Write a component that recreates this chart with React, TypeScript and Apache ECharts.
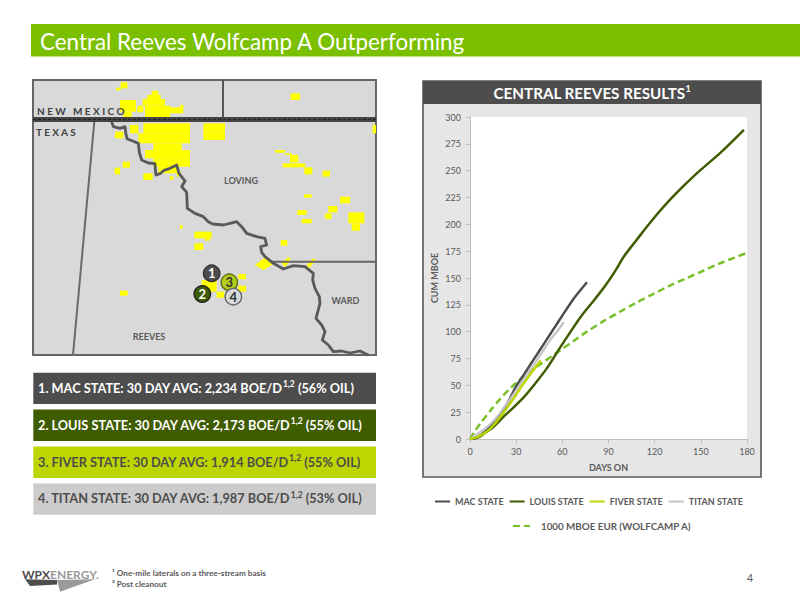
import React, { useEffect, useRef } from "react";
import * as echarts from "echarts";

const FONT = "Lato";
const seriesNames = ["MAC STATE", "LOUIS STATE", "FIVER STATE", "TITAN STATE", "1000 MBOE EUR (WOLFCAMP A)"];
const xTickInterval = 30;
const yTickInterval = 25;

const macState = [[0,0],[5,2],[10,7],[15,14],[20,24],[25,35],[30,49],[35,60],[40,71],[45,82],[50,93],[55,104],[60,115],[67,130],[72,139],[76,146]];
const louisState = [[2,0],[6,2],[10,6],[15,11],[22,21],[28,29],[35,39],[42,51],[50,66],[58,84],[64,97],[72,114],[81,130],[88,143],[95,158],[100,170],[108,185],[119,205],[132,226],[147,247],[163,267],[178,288]];
const fiverState = [[0,0],[5,2],[11,7],[16,14],[22,25],[28,37],[34,50],[40,62],[46,73]];
const titanState = [[0,0],[4,4],[10,10],[16,18],[22,29],[28,41],[33,52],[40,66],[46,79],[52,92],[57,101],[61,109]];
const eurWolfcampA = [[0,0],[3,7],[7,15],[13,26],[20,38],[26,47],[33,56],[40,64],[46,70],[53,77],[59,83],[68,92],[76,100],[87,110],[98,119],[108,127],[119,135],[130,143],[141,150],[152,157],[163,164],[172,169],[181,174]];

const titleText = "Central Reeves Wolfcamp A Outperforming";
const panelTitle = "CENTRAL REEVES RESULTS";
const statBars = [
  ["1. MAC STATE: 30 DAY AVG: 2,234 BOE/D", "(56% OIL)", "#4d4d4d", "#ffffff"],
  ["2. LOUIS STATE: 30 DAY AVG: 2,173 BOE/D", "(55% OIL)", "#3f5c00", "#ffffff"],
  ["3. FIVER STATE: 30 DAY AVG: 1,914 BOE/D", "(55% OIL)", "#bed600", "#4d4d4d"],
  ["4. TITAN STATE: 30 DAY AVG: 1,987 BOE/D", "(53% OIL)", "#cccccc", "#4d4d4d"],
];

// Map artwork, in 3x crop units of the map panel
const yellowBlocks = [
  [272,22,292,40],[258,38,272,46],[270,75,318,110],[280,110,305,128],[365,47,385,60],[352,60,392,72],[338,72,405,92],[322,92,340,112],[345,92,420,128],[405,97,460,115],[450,90,460,100],
  [340,145,480,175],[325,175,480,205],[370,205,455,225],[345,225,480,250],[370,250,480,275],[385,275,445,295],
  [300,150,325,175],[255,170,280,190],[520,145,585,170],[520,170,585,195],[278,260,300,278],[254,278,270,298],[340,295,368,315],[420,303,430,315],[440,290,452,305],
  [782,55,810,75],[735,225,765,233],[765,235,785,240],[780,240,805,262],[758,265,825,277],[823,277,847,298],[878,287,900,305],[822,358,845,368],[930,365,960,385],[802,405,830,420],[895,393,922,412],[885,415,905,432],[815,432,845,445],[955,412,1003,445],[965,445,990,467],[1028,150,1038,175],
  [493,470,545,490],[525,490,540,497],[493,505,520,525],[450,450,458,462],[752,495,772,512],[270,647,293,662],
  [625,597,648,613],[515,615,560,650],[560,650,583,668],[625,632,648,650],
];
const yellowShapes = [
  [[675,570],[705,547],[730,568],[700,585]],
  [[755,565],[775,545],[782,555],[765,577]],
  [[830,570],[850,550],[858,555],[838,580]],
];
const riverPath = [[245,140],[250,155],[270,160],[285,155],[288,178],[292,192],[308,198],[325,205],[328,232],[335,255],[355,264],[375,266],[376,285],[378,300],[392,295],[402,286],[420,280],[440,270],[447,295],[465,318],[455,335],[470,352],[472,400],[495,415],[520,425],[535,440],[548,447],[580,450],[600,445],[620,440],[635,455],[650,475],[680,485],[705,490],[710,510],[692,515],[695,532],[705,545],[730,565],[760,582],[790,572],[825,575],[850,595],[848,615],[855,640],[868,665],[870,685],[858,730],[875,750],[885,770],[877,795],[895,810],[910,830],[935,828],[960,834],[990,828],[1015,840]];
const mapLabels = [["LOVING", 633, 317], ["WARD", 946, 675], ["REEVES", 357, 785]];
const wellMarkers = [
  ["1", 545, 595, "#4d4d4d", "#333333", "#ffffff"],
  ["2", 517, 657, "#3f5c00", "#222222", "#ffffff"],
  ["3", 598, 622, "#b5cc18", "#5b6b10", "#333333"],
  ["4", 610, 665, "#d9d9d9", "#666666", "#333333"],
];

const mx = (v: number) => 30 + v / 3;
const my = (v: number) => 75 + v / 3;

function buildGraphics() {
  const g: any[] = [];
  const rect = (x: number, y: number, w: number, h: number, fill: string, extra: any = {}, z = 1) =>
    g.push({ type: "rect", z, silent: true, shape: { x, y, width: w, height: h }, style: { fill, ...extra } });
  const text = (x: number, y: number, t: string, size: number, fill: string, weight: any = "normal", align = "left", extra: any = {}, z = 5) =>
    g.push({ type: "text", z, silent: true, x, y, style: { text: t, fontFamily: FONT, fontSize: size, fontWeight: weight, fill, align, verticalAlign: "middle", ...extra } });

  // header
  rect(31, 24, 769, 32.5, "#7ac000");
  text(40, 41, titleText, 22.4, "#ffffff");

  // map
  rect(33, 80, 343, 275, "#d9d9d9", { stroke: "#666666", lineWidth: 2 });
  yellowBlocks.forEach(([a, b, c, d]) => rect(mx(a), my(b), (c - a) / 3, (d - b) / 3, "#ffff00", {}, 2));
  yellowShapes.forEach((pts) =>
    g.push({ type: "polygon", z: 2, silent: true, shape: { points: pts.map(([a, b]) => [mx(a), my(b)]) }, style: { fill: "#ffff00" } })
  );
  const line = (x1: number, y1: number, x2: number, y2: number, stroke: string, lineWidth: number, z = 3, dash?: number[]) =>
    g.push({ type: "line", z, silent: true, shape: { x1, y1, x2, y2 }, style: { stroke, lineWidth, lineDash: dash } });
  line(223, 80, 223, 118, "#555555", 2);
  line(94.3, 122, 73, 355, "#6a6a6a", 2);
  line(270, 261.7, 376, 261.7, "#666666", 2);
  line(33, 119.5, 376, 119.5, "#444444", 5);
  line(33, 119.5, 376, 119.5, "#222222", 1, 3, [3, 2]);
  g.push({ type: "polyline", z: 3, silent: true, shape: { points: riverPath.map(([a, b]) => [mx(a), my(b)]) }, style: { stroke: "#595959", lineWidth: 2.8, fill: "none", lineJoin: "round" } });
  text(37, 111, "N E W   M E X I C O", 10, "#404040", "bold");
  text(36, 132, "T E X A S", 10, "#404040", "bold");
  mapLabels.forEach(([t, a, b]) => text(mx(a as number), my(b as number), t as string, 9, "#595959", "bold", "center"));
  wellMarkers.forEach(([t, a, b, fill, stroke, col]) => {
    g.push({ type: "circle", z: 4, silent: true, shape: { cx: mx(a as number), cy: my(b as number), r: 8.2 }, style: { fill, stroke, lineWidth: 1.4 } });
    text(mx(a as number), my(b as number), t as string, 13, col as string, "bold", "center");
  });

  // stat bars
  statBars.forEach(([a, b, fill, col], i) => {
    const y = 372.7 + i * 36.9;
    rect(33.3, y, 342.7, 31.4, fill, {});
    g.push({
      type: "text", z: 5, silent: true, x: 38, y: y + 15,
      style: {
        text: `{m|${a}}{s|1,2}{m| ${b}}`, verticalAlign: "middle", align: "left", fontFamily: FONT,
        rich: {
          m: { fontFamily: FONT, fontSize: 12.75, fontWeight: "bold", fill: col, lineHeight: 16 },
          s: { fontFamily: FONT, fontSize: 8.5, fontWeight: "bold", fill: col, lineHeight: 16, verticalAlign: "top" },
        },
      },
    });
  });

  // chart panel
  rect(423, 81, 338, 396, "#e6e6e6", { stroke: "#595959", lineWidth: 1.6 }, -5);
  rect(423, 81, 338, 23, "#4d4d4d", {}, -4);
  g.push({
    type: "text", z: 5, silent: true, x: 592, y: 93,
    style: {
      text: `{m|${panelTitle}}{s|1}`, align: "center", verticalAlign: "middle", fontFamily: FONT,
      rich: {
        m: { fontFamily: FONT, fontSize: 15.2, fontWeight: "bold", fill: "#ffffff", lineHeight: 18 },
        s: { fontFamily: FONT, fontSize: 9, fontWeight: "bold", fill: "#ffffff", lineHeight: 18, verticalAlign: "top" },
      },
    },
  });

  // logo
  text(22, 574, "WPX", 12, "#4d4d4d", "bold");
  text(50, 574, "ENERGY.", 12, "#9a9a9a", "bold");
  g.push({ type: "polygon", z: 2, silent: true, shape: { points: [[25, 579.3], [57, 580], [57, 584.5], [30, 586]] }, style: { fill: "#4d4d4d" } });
  g.push({ type: "polygon", z: 2, silent: true, shape: { points: [[57, 580], [95, 579.3], [60, 591.7], [58.3, 585]] }, style: { fill: "#9a9a9a" } });

  // footnotes
  text(112, 573, "¹ One-mile laterals on a three-stream basis", 8.2, "#595959", "bold");
  text(112, 584, "² Post cleanout", 8.2, "#595959", "bold");
  text(750, 577, "4", 11, "#595959", "normal", "center");
  return g;
}

export default function App() {
  const ref = useRef<HTMLDivElement>(null);
  useEffect(() => {
    document.body.style.margin = "0";
    const chart = echarts.init(ref.current!, null, { renderer: "svg" });
    const lineSeries = (name: string, data: number[][], color: string, width: number, dash?: number[]) => ({
      type: "line", name, data, showSymbol: false, symbol: "none", smooth: 0.3, clip: false,
      lineStyle: { color, width, type: dash || "solid", cap: "butt" }, itemStyle: { color }, z: 3,
    });
    const legendBase = {
      orient: "horizontal", itemWidth: 15, itemHeight: 8,
      itemStyle: { opacity: 0 },
      textStyle: { fontFamily: FONT, fontSize: 9, fontWeight: "bold", color: "#595959" },
    };
    chart.setOption({
      animation: false,
      backgroundColor: "#ffffff",
      textStyle: { fontFamily: FONT },
      grid: { left: 470, top: 117, width: 277, height: 322, show: true, backgroundColor: "#ffffff", borderWidth: 0 },
      xAxis: {
        type: "value", min: 0, max: 180, interval: xTickInterval, name: "DAYS ON", nameLocation: "middle", nameGap: 24,
        nameTextStyle: { fontFamily: FONT, fontSize: 9, fontWeight: "bold", color: "#595959" },
        axisLine: { lineStyle: { color: "#bfbfbf" } }, axisTick: { show: true, length: 4, inside: false, lineStyle: { color: "#bfbfbf" } },
        axisLabel: { fontFamily: FONT, fontSize: 9, color: "#595959", margin: 8, hideOverlap: false, showMinLabel: true, showMaxLabel: true },
        splitLine: { show: false },
      },
      yAxis: {
        type: "value", min: 0, max: 300, interval: yTickInterval, name: "CUM MBOE", nameLocation: "middle", nameGap: 31, nameRotate: 90,
        nameTextStyle: { fontFamily: FONT, fontSize: 9, fontWeight: "bold", color: "#595959" },
        axisLine: { show: true, lineStyle: { color: "#bfbfbf" } }, axisTick: { show: true, length: 4, lineStyle: { color: "#bfbfbf" } },
        axisLabel: { fontFamily: FONT, fontSize: 9, color: "#595959", margin: 9, showMinLabel: true, showMaxLabel: true },
        splitLine: { show: false },
      },
      legend: [
        { ...legendBase, left: 429, top: 492, itemGap: 5, data: seriesNames.slice(0, 4) },
        { ...legendBase, left: 507, top: 516, itemGap: 5, itemWidth: 17, data: seriesNames.slice(4), textStyle: { ...legendBase.textStyle, fontSize: 9.8, padding: [0, 0, 0, 6] } },
      ],
      series: [
        lineSeries(seriesNames[4], eurWolfcampA, "#7ac02a", 2.5, [7, 4]),
        lineSeries(seriesNames[0], macState, "#4d4d4d", 2.5),
        lineSeries(seriesNames[1], louisState, "#3f5c00", 2.5),
        lineSeries(seriesNames[3], titanState, "#c4c4c4", 2.2),
        lineSeries(seriesNames[2], fiverState, "#bed600", 2.5),
      ],
      graphic: { elements: buildGraphics() },
    });
    return () => chart.dispose();
  }, []);
  return <div ref={ref} style={{ width: 800, height: 600 }} />;
}
